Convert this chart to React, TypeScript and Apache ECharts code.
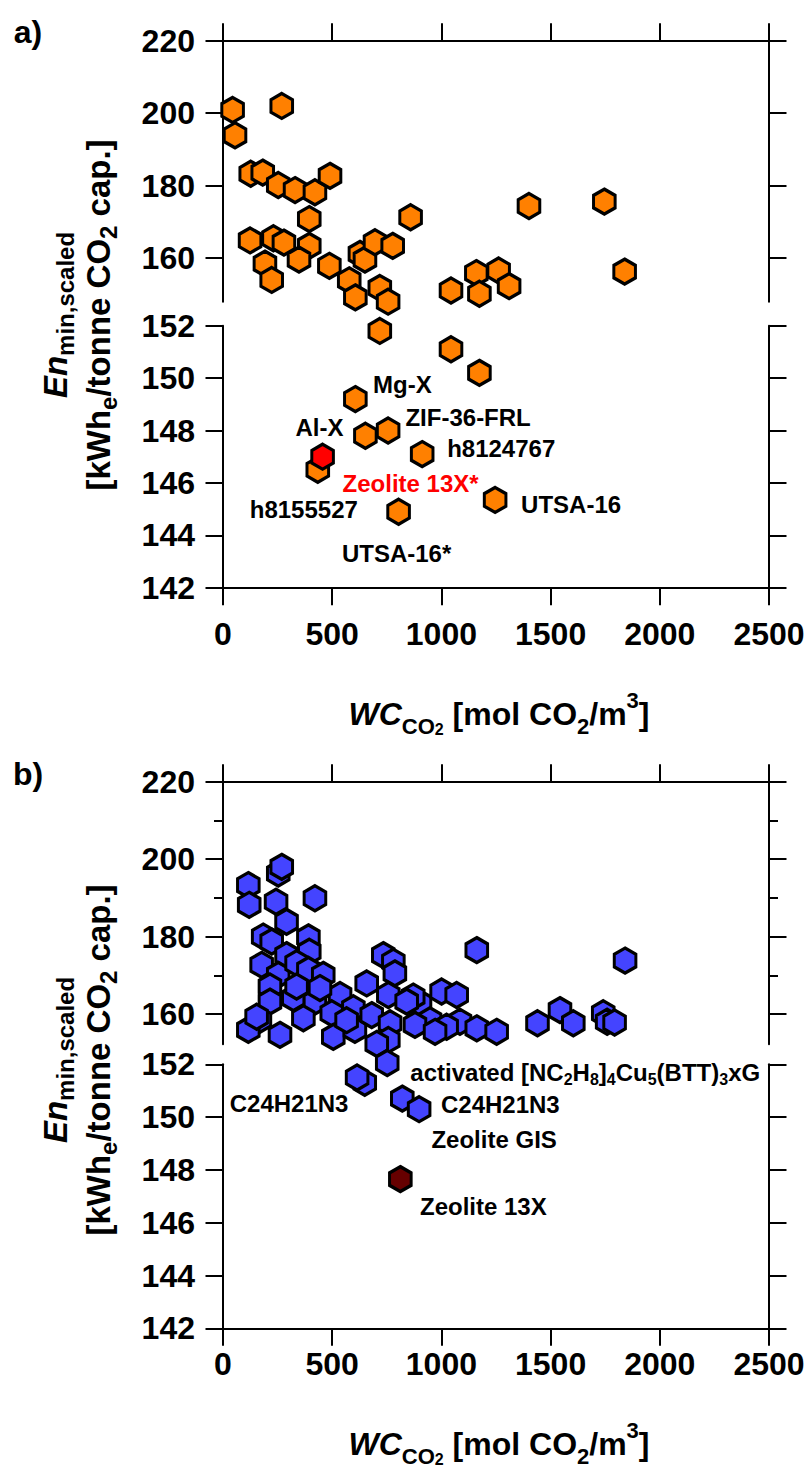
import React, { useEffect, useRef } from 'react';
import * as echarts from 'echarts';

const FONT = '"Liberation Sans", Arial, Helvetica, sans-serif';
const HEX = 'path://M0,-10L8.66,-5L8.66,5L0,10L-8.66,5L-8.66,-5Z';

// ---- axis ticks ----
const xTicks = [0, 500, 1000, 1500, 2000, 2500];
const upperTicks = [160, 180, 200, 220];
const upperMinorTicks = [170, 190, 210];
const lowerTicks = [142, 144, 146, 148, 150, 152];

// ---- panel a: structures (orange) ----
const wcA = [44, 55, 269, 127, 182, 253, 330, 421, 490, 395, 859, 124, 231, 279, 395, 348, 192, 223, 487, 627, 650, 696, 777, 578, 1160, 1262, 1310, 1401, 1746, 1839, 718, 1044, 1174];
const enA = [200.9, 193.9, 202.0, 183.3, 183.6, 180.2, 178.8, 178.2, 182.7, 170.8, 171.3, 164.9, 165.5, 164.3, 163.4, 159.6, 158.5, 154.0, 157.9, 161.2, 159.6, 164.4, 163.4, 153.9, 155.9, 156.6, 152.3, 174.4, 175.6, 156.3, 151.8, 151.1, 150.2];

// ---- panel a: named structures ----
const namesA = ['Mg-X', 'Al-X', 'ZIF-36-FRL', 'h8124767', 'h8155527', 'UTSA-16', 'UTSA-16*', 'Zeolite 13X*'];
const namedWcA = [606, 652, 756, 912, 434, 1246, 804, 456];
const namedEnA = [149.2, 147.8, 148.0, 147.1, 146.5, 145.35, 144.9, 147.0];

// ---- panel b: structures (blue) ----
const wcB = [116, 120, 253, 269, 243, 421, 291, 184, 223, 391, 395, 291, 177, 253, 337, 391, 459, 215, 215, 322, 421, 536, 498, 597, 368, 169, 116, 261, 505, 604, 681, 658, 734, 780, 787, 757, 765, 757, 704, 1162, 902, 1001, 1070, 948, 879, 1085, 1162, 1253, 1024, 871, 1440, 1543, 1604, 1741, 1759, 1793, 1841, 154, 444, 337, 566, 841, 971, 649];
const enB = [193.3, 188.2, 196.3, 198.0, 189.0, 189.9, 183.8, 180.0, 178.7, 179.8, 176.1, 175.2, 172.7, 170.1, 173.1, 171.4, 170.1, 167.1, 163.2, 164.1, 163.2, 164.9, 160.2, 161.5, 158.9, 158.5, 155.9, 154.6, 154.1, 155.9, 159.7, 167.9, 175.2, 173.5, 170.5, 164.9, 157.6, 153.3, 152.3, 176.5, 162.8, 165.8, 164.9, 158.4, 157.2, 158.0, 156.3, 155.4, 156.7, 164.5, 157.6, 161.0, 157.6, 160.2, 158.0, 157.8, 173.8, 159.3, 166.7, 167.1, 158.4, 163.2, 155.4, 151.3];

// ---- panel b: named structures ----
const namesB = ['activated [NC2H8]4Cu5(BTT)3xG', 'C24H21N3', 'C24H21N3', 'Zeolite GIS', 'Zeolite 13X'];
const namedWcB = [752, 614, 821, 898, 812];
const namedEnB = [152.05, 151.5, 150.7, 150.3, 147.65];

// ---- styling ----
const ORANGE = '#ff8000';
const BLUE = '#4444ff';
const RED = '#ff0000';
const DARK_RED = '#660000';
const BLACK = '#000000';

// label placement relative to its point (px)
const labelOffsetA: [number, number][] = [[47, -15], [-46, -8], [80, -13], [79, -6], [-14, 40], [76, 5], [-2, 42], [88, 27]];
const labelOffsetB: [number, number][] = [[198, 10], [-68, 26], [98, 6], [75, 30], [83, 27]];

const PLOT_LEFT = 223;
const PLOT_WIDTH = 546;

const axisLineStyle = { color: BLACK, width: 2 };
const tickFont = { fontSize: 32, fontWeight: 'bold' as const, fontFamily: FONT, color: BLACK };

function richLabelText(name: string): string {
  if (name.startsWith('activated')) {
    return '{m|activated [NC}{s|2}{m|H}{s|8}{m|]}{s|4}{m|Cu}{s|5}{m|(BTT)}{s|3}{m|xG}';
  }
  return name;
}

type PanelSpec = {
  upperTop: number;
  upperHeight: number;
  upperMin: number;
  lowerTop: number;
  lowerHeight: number;
  xLabelMargin: number;
  minorTicks: boolean;
  wc: number[];
  en: number[];
  fill: string;
  names: string[];
  namedWc: number[];
  namedEn: number[];
  namedFill: string[];
  labelColor: string[];
  offsets: [number, number][];
};

const panels: PanelSpec[] = [
  {
    upperTop: 40.7, upperHeight: 261, upperMin: 148,
    lowerTop: 325.7, lowerHeight: 262,
    xLabelMargin: 30, minorTicks: false,
    wc: wcA, en: enA, fill: ORANGE,
    names: namesA, namedWc: namedWcA, namedEn: namedEnA,
    namedFill: namesA.map((n) => (n === 'Zeolite 13X*' ? RED : ORANGE)),
    labelColor: namesA.map((n) => (n === 'Zeolite 13X*' ? RED : BLACK)),
    offsets: labelOffsetA,
  },
  {
    upperTop: 781.7, upperHeight: 262.5, upperMin: 152.2,
    lowerTop: 1064.3, lowerHeight: 264,
    xLabelMargin: 20, minorTicks: true,
    wc: wcB, en: enB, fill: BLUE,
    names: namesB, namedWc: namedWcB, namedEn: namedEnB,
    namedFill: namesB.map((n) => (n === 'Zeolite 13X' ? DARK_RED : BLUE)),
    labelColor: namesB.map(() => BLACK),
    offsets: labelOffsetB,
  },
];

function xAxisFor(gridIndex: number, position: 'top' | 'bottom', showLabels: boolean, margin: number) {
  return {
    type: 'value', gridIndex, position, min: 0, max: 2500, interval: 500,
    axisLine: { show: true, onZero: false, lineStyle: axisLineStyle },
    axisTick: { show: true, inside: false, length: 17.5, lineStyle: axisLineStyle },
    axisLabel: { show: showLabels, margin, formatter: (v: number) => String(v), ...tickFont },
    splitLine: { show: false },
  };
}

function yAxisFor(gridIndex: number, position: 'left' | 'right', min: number, max: number, ticks: number[], showLabels: boolean, tickLen = 17.5, showLine = true) {
  return {
    type: 'value', gridIndex, position, min, max,
    axisLine: { show: showLine, onZero: false, lineStyle: axisLineStyle },
    axisTick: { show: true, inside: false, length: tickLen, lineStyle: axisLineStyle, customValues: ticks },
    axisLabel: { show: showLabels, customValues: ticks, margin: 28, formatter: (v: number) => String(v), ...tickFont },
    splitLine: { show: false },
  };
}

function buildOption() {
  const grid: any[] = [];
  const xAxis: any[] = [];
  const yAxis: any[] = [];
  const series: any[] = [];

  panels.forEach((p) => {
    const segments = [
      { top: p.upperTop, height: p.upperHeight, min: p.upperMin, max: 220, ticks: upperTicks, upper: true },
      { top: p.lowerTop, height: p.lowerHeight, min: 142, max: 152, ticks: lowerTicks, upper: false },
    ];
    segments.forEach((s) => {
      const gi = grid.length;
      grid.push({ left: PLOT_LEFT, width: PLOT_WIDTH, top: s.top, height: s.height, containLabel: false });
      xAxis.push(xAxisFor(gi, s.upper ? 'top' : 'bottom', !s.upper, p.xLabelMargin));
      const yi = yAxis.length;
      yAxis.push(yAxisFor(gi, 'left', s.min, s.max, s.ticks, true));
      yAxis.push(yAxisFor(gi, 'right', s.min, s.max, s.ticks, false));
      if (s.upper && p.minorTicks) {
        yAxis.push(yAxisFor(gi, 'left', s.min, s.max, upperMinorTicks, false, 9, false));
        yAxis.push(yAxisFor(gi, 'right', s.min, s.max, upperMinorTicks, false, 9, false));
      }
      const inRange = (v: number) => (s.upper ? v >= s.min - 0.05 : v <= s.max + 0.1);

      const plain = p.wc
        .map((x, i) => ({ value: [x, p.en[i]], itemStyle: { color: p.fill } }))
        .filter((d) => inRange(d.value[1]));
      const named = p.namedWc
        .map((x, i) => ({
          value: [x, p.namedEn[i]],
          name: p.names[i],
          itemStyle: { color: p.namedFill[i] },
          label: s.upper
            ? { show: false }
            : {
                show: true,
                position: 'inside',
                formatter: richLabelText(p.names[i]),
                offset: p.offsets[i],
                color: p.labelColor[i],
                fontSize: 24,
                fontWeight: 'bold',
                fontFamily: FONT,
                rich: {
                  m: { fontSize: 24, fontWeight: 'bold', fontFamily: FONT, color: BLACK, lineHeight: 30 },
                  s: { fontSize: 16, fontWeight: 'bold', fontFamily: FONT, color: BLACK, lineHeight: 10, verticalAlign: 'bottom' },
                },
              },
        }))
        .filter((d) => inRange(d.value[1]));

      series.push({
        type: 'scatter',
        xAxisIndex: gi,
        yAxisIndex: yi,
        symbol: HEX,
        symbolSize: [21.6, 25],
        clip: false,
        silent: true,
        itemStyle: { borderColor: BLACK, borderWidth: 3.2, opacity: 1 },
        label: { show: false },
        data: [...plain, ...named],
        z: 3,
      });
    });
  });

  const yTitleRich = {
    it: { fontSize: 33, fontWeight: 'bold', fontStyle: 'italic', fontFamily: FONT, fill: BLACK, lineHeight: 43 },
    m: { fontSize: 33, fontWeight: 'bold', fontFamily: FONT, fill: BLACK, lineHeight: 43 },
    sa: { fontSize: 24, fontWeight: 'bold', fontFamily: FONT, fill: BLACK, lineHeight: 10.7, verticalAlign: 'bottom' },
    sb: { fontSize: 24, fontWeight: 'bold', fontFamily: FONT, fill: BLACK, lineHeight: 20.7, verticalAlign: 'bottom' },
  };
  const xTitleRich = {
    i: { fontSize: 32, fontWeight: 'bold', fontStyle: 'italic', fontFamily: FONT, fill: BLACK, lineHeight: 48 },
    m: { fontSize: 32, fontWeight: 'bold', fontFamily: FONT, fill: BLACK, lineHeight: 48 },
    s: { fontSize: 22, fontWeight: 'bold', fontFamily: FONT, fill: BLACK, lineHeight: 17, verticalAlign: 'bottom' },
    ss: { fontSize: 16, fontWeight: 'bold', fontFamily: FONT, fill: BLACK, lineHeight: 1, verticalAlign: 'bottom' },
    s2: { fontSize: 22, fontWeight: 'bold', fontFamily: FONT, fill: BLACK, lineHeight: 21, verticalAlign: 'bottom' },
    sup: { fontSize: 22, fontWeight: 'bold', fontFamily: FONT, fill: BLACK, lineHeight: 19, verticalAlign: 'top' },
  };
  const yTitle = '{it|En}{sa|min,scaled}\n{m|[kWh}{sb|e}{m|/tonne CO}{sb|2}{m| cap.]}';
  const xTitle = '{i|WC}{s|CO}{ss|2}{m| [mol CO}{s2|2}{m|/m}{sup|3}{m|]}';

  const graphic: any[] = [];
  const panelText = [
    { tag: 'a)', tagY: 32, yTitleY: 315, xTitleY: 713.8 },
    { tag: 'b)', tagY: 774, yTitleY: 1060, xTitleY: 1443.8 },
  ];
  panelText.forEach((t) => {
    graphic.push({
      type: 'text', x: 28, y: t.tagY, silent: true,
      style: { text: t.tag, font: `bold 32px ${FONT}`, fill: BLACK, align: 'center', verticalAlign: 'middle' },
    });
    graphic.push({
      type: 'text', x: 77, y: t.yTitleY, rotation: Math.PI / 2, silent: true,
      style: { text: yTitle, rich: yTitleRich, align: 'center', verticalAlign: 'middle', fill: BLACK },
    });
    graphic.push({
      type: 'text', x: 499, y: t.xTitleY, silent: true,
      style: { text: xTitle, rich: xTitleRich, align: 'center', verticalAlign: 'middle', fill: BLACK },
    });
  });

  return {
    animation: false,
    backgroundColor: '#ffffff',
    grid,
    xAxis,
    yAxis,
    series,
    graphic,
  };
}

export default function App() {
  const ref = useRef<HTMLDivElement>(null);
  useEffect(() => {
    document.body.style.margin = '0';
    const chart = echarts.init(ref.current as HTMLDivElement, null, { renderer: 'svg' });
    chart.setOption(buildOption() as any);
    return () => chart.dispose();
  }, []);
  return <div ref={ref} style={{ width: 810, height: 1476 }} />;
}
